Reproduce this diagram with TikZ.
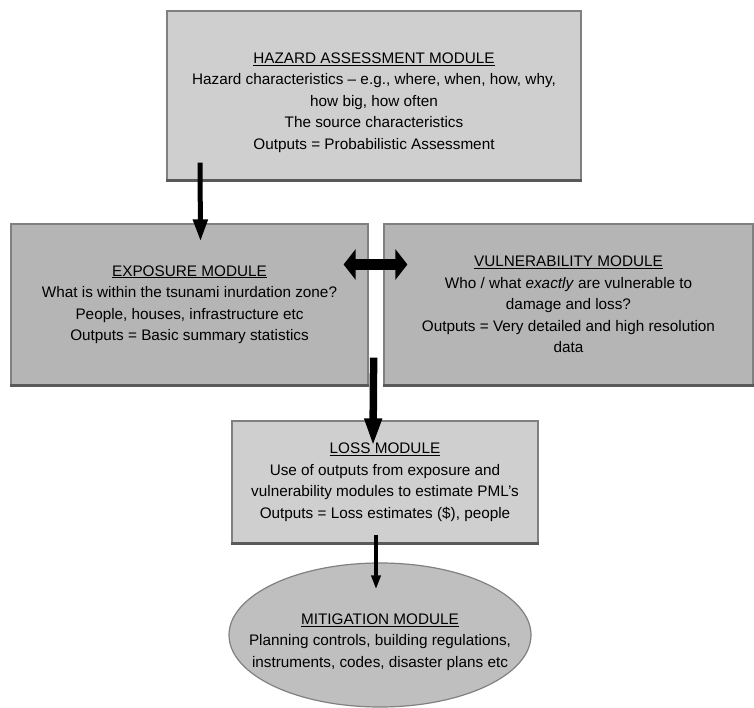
\documentclass[tikz,border=0pt]{standalone}
\usepackage{fontspec}
\setmainfont{Liberation Sans}
\usetikzlibrary{arrows.meta, shapes.geometric}

\begin{document}
\begin{tikzpicture}[x=1pt, y=-1pt,
  every node/.style={align=center, inner sep=0pt, font=\fontsize{15.3}{21.5}\selectfont},
  module/.style={rectangle, draw=black!50, line width=1.2pt, fill=black!19},
  darkmodule/.style={module, fill=black!29},
  bottomedge/.style={draw=black!65, line width=2.4pt},
  flow/.style={-{Triangle[length=22pt, width=14pt]}, line width=5pt},
  thinflow/.style={-{Triangle[length=14pt, width=9pt]}, line width=3.5pt}]
\useasboundingbox (0,0) rectangle (754,708);
% hazard
\node[module, minimum width=414pt, minimum height=169pt] (hazard) at (374,95.5) {};
\node (hazardtext) at ([yshift=-7pt]hazard.center)
  {\underline{HAZARD ASSESSMENT MODULE}\\
   Hazard characteristics -- e.g., where, when, how, why,\\
   how big, how often\\
   The source characteristics\\
   Outputs = Probabilistic Assessment};
% exposure and vulnerability
\node[darkmodule, minimum width=357pt, minimum height=161pt] (expo) at (189.5,304.5)
  {\underline{EXPOSURE MODULE}\\
   What is within the tsunami inurdation zone?\\
   People, houses, infrastructure etc\\
   Outputs = Basic summary statistics};
\node[darkmodule, minimum width=369pt, minimum height=161pt] (vuln) at (568.5,304.5)
  {\underline{VULNERABILITY MODULE}\\
   Who / what \emph{exactly} are vulnerable to\\
   damage and loss?\\
   Outputs = Very detailed and high resolution\\
   data};
% loss
\node[module, minimum width=306pt, minimum height=122pt] (loss) at (385,482)
  {\underline{LOSS MODULE}\\
   Use of outputs from exposure and\\
   vulnerability modules to estimate PML's\\
   Outputs = Loss estimates (\$), people};
\draw[bottomedge] (hazard.south west) -- (hazard.south east);
\draw[bottomedge] (expo.south west) -- (expo.south east);
\draw[bottomedge] (vuln.south west) -- (vuln.south east);
\draw[bottomedge] (loss.south west) -- (loss.south east);
% mitigation
\node[ellipse, draw=black!50, line width=1.2pt, fill=black!25, minimum width=302pt, minimum height=144pt] (mitig) at (380,635) {};
\node (mitigtext) at ([yshift=-7pt]mitig.center)
  {\underline{MITIGATION MODULE}\\
   Planning controls, building regulations,\\
   instruments, codes, disaster plans etc};
% arrows
\draw[flow] ([xshift=-174pt, yshift=18pt]hazard.south) -- ([xshift=11pt, yshift=-18pt]expo.north);
\draw[{Triangle[length=12pt, width=30pt]}-{Triangle[length=12pt, width=30pt]}, line width=11pt]
  ([xshift=-25pt, yshift=40pt]expo.east) -- ([xshift=24pt, yshift=40pt]vuln.west);
\draw[-{Triangle[length=28pt, width=16pt]}, line width=7.5pt] ([xshift=5pt, yshift=28pt]expo.south east) -- ([xshift=-12pt, yshift=-26pt]loss.north);
\draw[thinflow] ([xshift=-9pt, yshift=9pt]loss.south) -- ([xshift=-4pt, yshift=-27pt]mitig.north);
\end{tikzpicture}
\end{document}
